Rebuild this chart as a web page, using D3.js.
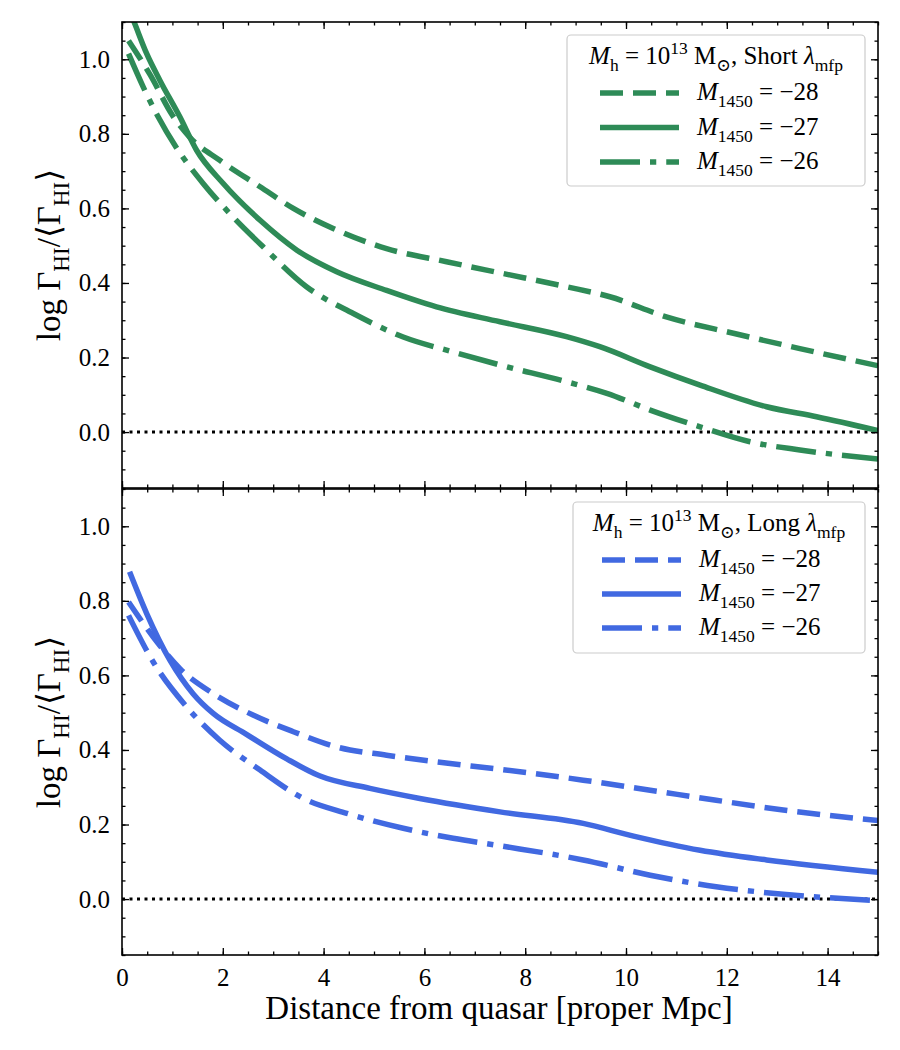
<!DOCTYPE html>
<html><head><meta charset="utf-8">
<script src="https://cdn.jsdelivr.net/npm/d3@7"></script>
<style>body{margin:0;background:#fff}svg{display:block}svg text{font-family:"Liberation Serif","DejaVu Serif",serif !important;fill:#000}</style>
</head><body><svg id="c" width="900" height="1050"></svg>
<script>
// ---- data ----
const panels = ["Short", "Long"];
const magnitudes = ["-28", "-27", "-26"];
const xTicks = [0, 2, 4, 6, 8, 10, 12, 14];
const yTicks = [0.0, 0.2, 0.4, 0.6, 0.8, 1.0];

// Short mean free path panel
const shortM28 = [[0.13,1.05],[0.56,0.958],[1.0,0.85],[1.35,0.79],[1.94,0.729],[2.74,0.658],[3.40,0.60],[4.19,0.546],[5.25,0.492],[6.44,0.457],[7.5,0.427],[8.82,0.39],[9.68,0.363],[10.8,0.309],[12.13,0.265],[13.45,0.224],[15.0,0.178]];
const shortM27 = [[0.15,1.13],[0.24,1.10],[0.49,1.015],[0.75,0.944],[1.15,0.845],[1.48,0.756],[2.0,0.668],[2.74,0.568],[3.47,0.488],[4.26,0.43],[5.25,0.38],[6.24,0.336],[7.5,0.296],[8.82,0.256],[9.48,0.229],[10.48,0.175],[11.47,0.126],[12.79,0.068],[13.78,0.041],[15.0,0.004]];
const shortM26 = [[0.13,1.015],[0.42,0.926],[0.70,0.85],[1.08,0.763],[1.61,0.667],[2.14,0.586],[2.80,0.497],[3.66,0.39],[4.59,0.318],[5.58,0.255],[6.57,0.215],[7.5,0.18],[8.82,0.135],[9.62,0.104],[10.48,0.059],[11.47,0.014],[12.46,-0.026],[13.45,-0.048],[15.0,-0.072]];

// Long mean free path panel
const longM28 = [[0.13,0.797],[0.62,0.703],[1.15,0.618],[1.81,0.551],[2.61,0.493],[3.40,0.449],[4.26,0.408],[5.25,0.386],[6.24,0.368],[7.5,0.348],[9.15,0.319],[10.48,0.292],[11.79,0.265],[13.12,0.239],[15.0,0.211]];
const longM27 = [[0.15,0.878],[0.49,0.766],[0.95,0.641],[1.41,0.551],[1.81,0.498],[2.47,0.442],[3.27,0.376],[3.93,0.330],[4.92,0.297],[5.91,0.27],[7.5,0.234],[9.15,0.203],[10.15,0.169],[11.47,0.131],[12.79,0.105],[15.0,0.072]];
const longM26 = [[0.13,0.761],[0.62,0.636],[1.28,0.516],[1.94,0.426],[2.74,0.346],[3.60,0.27],[4.46,0.23],[5.58,0.19],[6.57,0.163],[7.5,0.143],[9.15,0.105],[10.48,0.064],[11.79,0.033],[13.12,0.013],[14.85,-0.003]];

const seriesByPanel = [[shortM28, shortM27, shortM26], [longM28, longM27, longM26]];
const panelColors = ["#2e8b57", "#4169e1"];
const dashStyles = ["23,10", null, "40,10,6.25,10"];

// ---- layout ----
const svg = d3.select("#c");
const X0 = 122, X1 = 878;
const panelBoxes = [[22, 488], [489, 955]];
const x = d3.scaleLinear().domain([0, 15]).range([X0, X1]);
const SERIF = '"Liberation Serif","DejaVu Serif",serif';

function mathText(sel, parts, fs) {
  let off = 0;
  parts.forEach(p => {
    const ts = sel.append("tspan").text(p.t);
    let target = 0, size = fs;
    if (p.sub) { target = 0.28 * fs; size = 0.7 * fs; }
    if (p.sup) { target = -0.42 * fs; size = 0.7 * fs; }
    ts.attr("dy", target - off).attr("font-size", size);
    if (p.i) ts.attr("font-style", "italic");
    off = target;
  });
}

panelBoxes.forEach((pb, pi) => {
  const y = d3.scaleLinear().domain([-0.15, 1.1]).range([pb[1], pb[0]]);
  const g = svg.append("g");
  const clipId = "clip" + pi;
  svg.append("clipPath").attr("id", clipId).append("rect")
    .attr("x", X0).attr("y", pb[0]).attr("width", X1 - X0).attr("height", pb[1] - pb[0]);

  // zero line
  g.append("line").attr("x1", X0).attr("x2", X1).attr("y1", y(0)).attr("y2", y(0))
    .attr("stroke", "#000").attr("stroke-width", 3).attr("stroke-dasharray", "3,4.5");

  const line = d3.line().x(d => x(d[0])).y(d => y(d[1])).curve(d3.curveMonotoneX);
  seriesByPanel[pi].forEach((s, si) => {
    g.append("path").datum(s).attr("d", line).attr("fill", "none")
      .attr("clip-path", `url(#${clipId})`)
      .attr("stroke", panelColors[pi]).attr("stroke-width", 5.5)
      .attr("stroke-dasharray", dashStyles[si]);
  });

  // axes with inward ticks on all sides
  const yMinor = d3.range(-0.15, 1.1001, 0.05).map(v => +v.toFixed(2));
  const xMinor = d3.range(0, 15.001, 0.5);
  const axB = d3.axisBottom(x).tickValues(xTicks).tickSizeInner(-7).tickSizeOuter(0).tickPadding(13)
    .tickFormat(pi === 1 ? d3.format("d") : "");
  const axT = d3.axisTop(x).tickValues(xTicks).tickSizeInner(-7).tickSizeOuter(0).tickFormat("");
  const axL = d3.axisLeft(y).tickValues(yTicks).tickSizeInner(-7).tickSizeOuter(0).tickPadding(12).tickFormat(d3.format(".1f"));
  const axR = d3.axisRight(y).tickValues(yTicks).tickSizeInner(-7).tickSizeOuter(0).tickFormat("");
  const mB = d3.axisBottom(x).tickValues(xMinor).tickSize(-3.5).tickFormat("");
  const mT = d3.axisTop(x).tickValues(xMinor).tickSize(-3.5).tickFormat("");
  const mL = d3.axisLeft(y).tickValues(yMinor).tickSize(-3.5).tickFormat("");
  const mR = d3.axisRight(y).tickValues(yMinor).tickSize(-3.5).tickFormat("");
  const add = (ax, tr) => {
    const a = g.append("g").attr("transform", tr).call(ax);
    a.attr("font-family", SERIF).attr("font-size", 25);
    a.select(".domain").remove();
    a.selectAll("line").attr("stroke", "#000").attr("stroke-width", 1.3);
    a.selectAll("text").style("font-family", SERIF).attr("font-size", 25);
    return a;
  };
  add(mB, `translate(0,${pb[1]})`);
  add(mT, `translate(0,${pb[0]})`);
  add(mL, `translate(${X0},0)`); add(mR, `translate(${X1},0)`);
  add(axB, `translate(0,${pb[1]})`);
  add(axT, `translate(0,${pb[0]})`);
  add(axL, `translate(${X0},0)`);
  add(axR, `translate(${X1},0)`);

  g.append("rect").attr("x", X0).attr("y", pb[0]).attr("width", X1 - X0).attr("height", pb[1] - pb[0])
    .attr("fill", "none").attr("stroke", "#000").attr("stroke-width", 1.6);

  // y label
  const cy = (pb[0] + pb[1]) / 2;
  const yl = g.append("text").attr("transform", `translate(60,${cy}) rotate(-90)`).attr("text-anchor", "middle");
  mathText(yl, [{t: "log Γ"}, {t: "HI", sub: true}, {t: "/⟨Γ"}, {t: "HI", sub: true}, {t: "⟩"}], 33);

  // legend
  const L = pi === 0 ? {x: 567, y: 35, w: 298, h: 151, tx: 716, ty: 64, lx: 600, tx2: 697, ly: [93, 127.5, 162]}
                     : {x: 573, y: 502, w: 292, h: 151, tx: 719, ty: 531, lx: 602, tx2: 699, ly: [560, 594, 628]};
  const lg = g.append("g");
  lg.append("rect").attr("x", L.x).attr("y", L.y).attr("width", L.w).attr("height", L.h).attr("rx", 4)
    .attr("fill", "#fff").attr("fill-opacity", 0.85).attr("stroke", "#cccccc").attr("stroke-width", 1.2);
  const tt = lg.append("text").attr("x", L.tx).attr("y", L.ty).attr("text-anchor", "middle");
  mathText(tt, [{t: "M", i: true}, {t: "h", sub: true}, {t: " = 10"}, {t: "13", sup: true}, {t: " M"}, {t: "⊙", sub: true},
                {t: ", " + panels[pi] + " "}, {t: "λ", i: true}, {t: "mfp", sub: true}], 25);
  magnitudes.forEach((m, si) => {
    lg.append("line").attr("x1", L.lx).attr("x2", L.lx + 79).attr("y1", L.ly[si]).attr("y2", L.ly[si])
      .attr("stroke", panelColors[pi]).attr("stroke-width", 5.5).attr("stroke-dasharray", dashStyles[si]);
    const t = lg.append("text").attr("x", L.tx2).attr("y", L.ly[si] + 7);
    mathText(t, [{t: "M", i: true}, {t: "1450", sub: true}, {t: " = −" + m.slice(1)}], 25);
  });
});

svg.append("text").attr("x", 499).attr("y", 1019).attr("text-anchor", "middle")
  .attr("font-size", 33).text("Distance from quasar [proper Mpc]");
</script></body></html>
